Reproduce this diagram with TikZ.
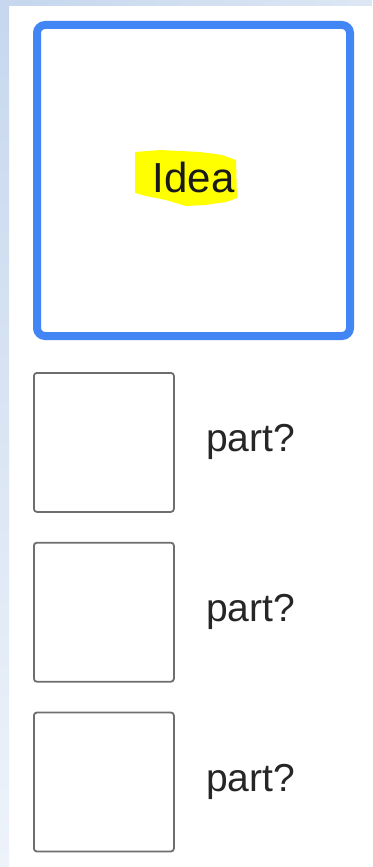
\documentclass[tikz,border=0pt]{standalone}
\usepackage{fontspec}
\setmainfont{Liberation Sans}
\usetikzlibrary{positioning,calc}
\definecolor{ideablue}{HTML}{4285F4}
\definecolor{partgray}{HTML}{6E6E6E}
\definecolor{marker}{HTML}{FFFF00}
\definecolor{framelight}{HTML}{C6D7EE}
\definecolor{framemid}{HTML}{DDE7F4}
\definecolor{framepale}{HTML}{EEF3FA}
\tikzstyle{ideabox} = [rectangle, draw=ideablue, line width=8pt, rounded corners=8pt,
    minimum width=313pt, minimum height=311pt, text depth=6pt,
    font=\fontsize{42}{44}\selectfont, text=black!90]
\tikzstyle{partbox} = [rectangle, draw=partgray, line width=1.8pt, rounded corners=3pt,
    minimum width=140pt, minimum height=139pt]
\tikzstyle{parttext} = [inner sep=0pt, font=\fontsize{39}{44}\selectfont, text=black!85]

\begin{document}
\begin{tikzpicture}[x=1pt, y=-1pt, node distance=29pt]
\useasboundingbox (0,0) rectangle (372,867);
\fill[white] (0,0) rectangle (372,867);
\shade[top color=framelight, bottom color=framepale] (0,0) rectangle (9,867);
\shade[left color=framelight, right color=framemid] (9,0) rectangle (372,6);

% marker stroke behind the word
\fill[marker] (135,152) -- (160,150) -- (200,152) -- (222,155) -- (236,160) -- (237,198)
    -- (226,202) -- (205,205) -- (186,206) -- (166,200) -- (146,196) -- (135,193) -- cycle;

\node[ideabox] (idea) at (193.5,180.5) {Idea};

\node[partbox, anchor=north west] (part1) at ($(idea.south west)+(0,32)$) {};
\node[partbox, below=of part1] (part2) {};
\node[partbox, below=of part2] (part3) {};

\node[parttext, right=31pt of part1] (q1) {part?};
\node[parttext, right=31pt of part2] (q2) {part?};
\node[parttext, right=31pt of part3] (q3) {part?};
\end{tikzpicture}
\end{document}
